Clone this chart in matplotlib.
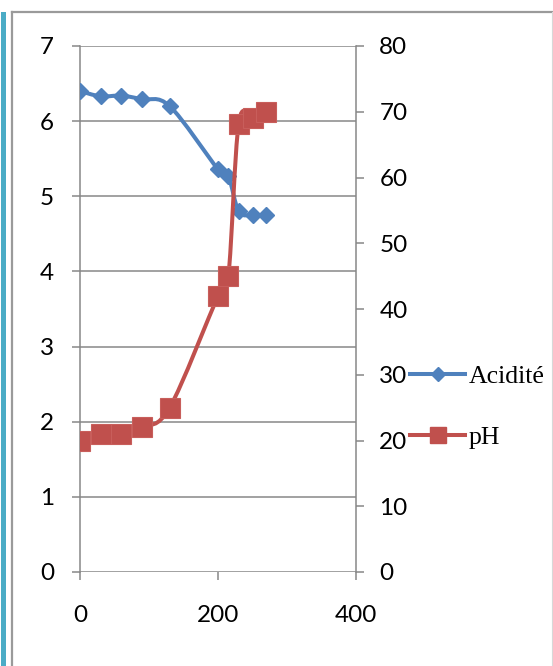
import matplotlib
matplotlib.use("Agg")
import matplotlib.pyplot as plt
from matplotlib.path import Path
from matplotlib.patches import PathPatch, Rectangle
from matplotlib.lines import Line2D

# Series data
time_values = [0, 30, 60, 90, 130, 200, 215, 230, 250, 270]
acidite = [6.4, 6.33, 6.34, 6.29, 6.2, 5.36, 5.27, 4.8, 4.75, 4.75]
ph = [20, 21, 21, 22, 25, 42, 45, 68.2, 69, 70]
left_ticks = [0, 1, 2, 3, 4, 5, 6, 7]
right_ticks = [0, 10, 20, 30, 40, 50, 60, 70, 80]
x_ticks = [0, 200, 400]
series_names = ["Acidité", "pH"]

BLUE = "#4F81BD"
RED = "#C0504D"
GRID = "#878787"
TICK_FONT = "Lato"

W, H = 553, 666
fig = plt.figure(figsize=(W / 100, H / 100), dpi=100)


def smooth_path(xs, ys):
    """Cubic Bezier path through the points (Catmull-Rom style smoothing)."""
    pts = list(zip(xs, ys))
    n = len(pts)
    verts = [pts[0]]
    codes = [Path.MOVETO]
    for i in range(n - 1):
        p0 = pts[i - 1] if i > 0 else pts[i]
        p1 = pts[i]
        p2 = pts[i + 1]
        p3 = pts[i + 2] if i + 2 < n else pts[i + 1]
        c1 = (p1[0] + (p2[0] - p0[0]) / 6, p1[1] + (p2[1] - p0[1]) / 6)
        c2 = (p2[0] - (p3[0] - p1[0]) / 6, p2[1] - (p3[1] - p1[1]) / 6)
        verts += [c1, c2, p2]
        codes += [Path.CURVE4] * 3
    return Path(verts, codes)


ax = fig.add_axes([80 / W, 1 - 572 / H, (356 - 80) / W, (572 - 46) / H])
ax2 = ax.twinx()

ax.set_xlim(0, 400)
ax.set_ylim(0, 7)
ax2.set_ylim(0, 80)

# Acidité on the left axis
ax.add_patch(PathPatch(smooth_path(time_values, acidite), fill=False,
                       edgecolor=BLUE, lw=2.9, capstyle="round", zorder=3))
ax.plot(time_values, acidite, ls="none", marker="D", ms=8.5,
        mfc=BLUE, mec=BLUE, zorder=4)

# pH on the right axis
ax2.add_patch(PathPatch(smooth_path(time_values, ph), fill=False,
                        edgecolor=RED, lw=2.9, capstyle="round", zorder=3))
ax2.plot(time_values, ph, ls="none", marker="s", ms=14, mfc=RED,
         mec="#C85E5B", mew=0.8, zorder=4)

# Axes styling
ax.set_yticks(left_ticks)
ax.set_xticks(x_ticks)
ax2.set_yticks(right_ticks)
ax.grid(axis="y", color=GRID, lw=1.1)
ax.set_axisbelow(True)
for a in (ax, ax2):
    for s in a.spines.values():
        s.set_visible(False)
ax.spines["left"].set_visible(True)
ax.spines["left"].set_color(GRID)
ax.spines["left"].set_linewidth(1.1)
ax2.spines["right"].set_visible(True)
ax2.spines["right"].set_color(GRID)
ax2.spines["right"].set_linewidth(1.1)

ax.tick_params(axis="y", direction="out", length=5.8, width=1.1, color=GRID,
               pad=13, labelsize=17.5)
ax.tick_params(axis="x", direction="out", length=5.8, width=1.1, color=GRID,
               pad=18, labelsize=17.5)
ax2.tick_params(axis="y", direction="out", length=5.8, width=1.1, color=GRID,
                pad=11, labelsize=17.5)
for lab in ax.get_xticklabels() + ax.get_yticklabels() + ax2.get_yticklabels():
    lab.set_fontfamily(TICK_FONT)

# Legend to the right of the plot
handles = [
    Line2D([], [], color=BLUE, lw=2.9, marker="D", ms=7.5, mfc=BLUE, mec=BLUE),
    Line2D([], [], color=RED, lw=2.9, marker="s", ms=11, mfc=RED, mec=RED),
]
fig.legend(handles, series_names, loc="upper left",
           bbox_to_anchor=(410 / W, 1 - 365 / H), frameon=False,
           prop={"family": "Liberation Serif", "size": 18.5},
           handlelength=2.15, handletextpad=0.15, labelspacing=1.48,
           borderpad=0, borderaxespad=0)

# Page frame around the chart
fig.patches.append(Rectangle((1 / W, 0), 5 / W, 1 - 12 / H,
                             transform=fig.transFigure, color="#4BACC6",
                             lw=0))
fig.lines.append(Line2D([11.5 / W, 11.5 / W], [0, 1 - 12 / H],
                        transform=fig.transFigure, color="#9A9A9A", lw=1.6))
fig.lines.append(Line2D([11.5 / W, 1], [1 - 12 / H, 1 - 12 / H],
                        transform=fig.transFigure, color="#9A9A9A", lw=1.6))
fig.lines.append(Line2D([552 / W, 552 / W], [0, 1 - 12 / H],
                        transform=fig.transFigure, color="#D8D8D8", lw=0.8))

fig.savefig("out.png", dpi=100)
